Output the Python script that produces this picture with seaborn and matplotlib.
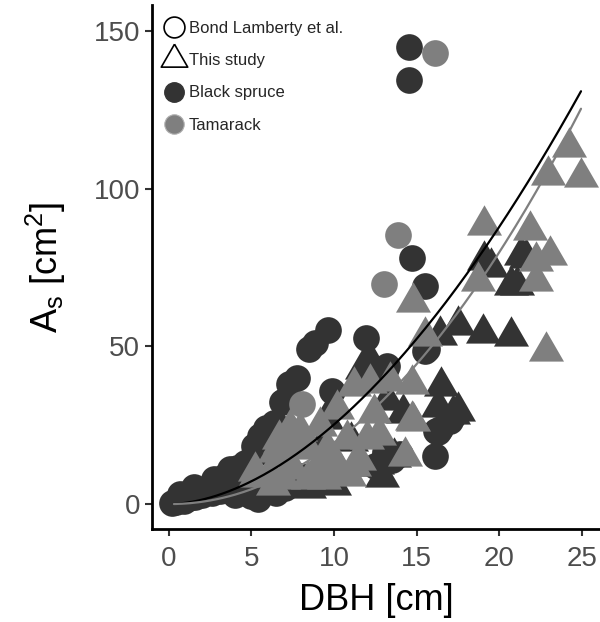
import numpy as np
import pandas as pd
import matplotlib
matplotlib.use("Agg")
import matplotlib.pyplot as plt
from matplotlib.lines import Line2D
from matplotlib.markers import MarkerStyle
import seaborn as sns

# ---- data -------------------------------------------------------------
# Bond Lamberty et al., black spruce
bl_spruce_dbh = [0.2, 0.4, 0.7, 0.9, 1.2, 1.5, 1.6, 2.0, 2.2, 2.6, 2.7, 3.1, 3.4, 3.7,
                 3.6, 4.0, 4.1, 4.4, 4.6, 5.0, 5.14, 5.4, 5.44, 5.54, 5.64, 5.9, 6.34,
                 6.85, 6.95, 7.25, 7.75, 8.46, 8.86, 9.63, 9.87, 11.92, 13.1, 13.2,
                 14.56, 14.56, 14.74, 15.5, 15.5, 15.6, 16.1, 16.2, 16.4, 17.0, 17.2,
                 13.5, 14.0, 13.1, 10.5, 12.5, 7.0, 8.0, 6.5, 5.44, 16.3]
bl_spruce_as = [0.3, 0.8, 3.2, 1.0, 1.8, 5.3, 2.3, 2.8, 4.8, 3.5, 7.9, 4.0, 9.0, 11.1,
                5.0, 3.0, 11.5, 6.0, 13.0, 2.5, 18.5, 1.6, 16.4, 21.6, 20.6, 24.0, 25.8,
                32.2, 32.7, 38.0, 40.1, 49.0, 51.2, 55.2, 35.9, 52.7, 42.2, 43.8,
                145.0, 134.3, 78.1, 69.1, 48.5, 49.0, 15.3, 23.2, 23.7, 26.4, 27.9,
                14.0, 16.0, 16.4, 10.0, 12.0, 5.0, 9.0, 3.5, 3.8, 22.7]

# Bond Lamberty et al., tamarack
bl_tamarack_dbh = [16.13, 13.86, 13.05, 8.06]
bl_tamarack_as = [143.1, 85.4, 69.8, 31.6]

# This study, black spruce
ts_spruce_dbh = [17.5, 19.0, 20.7, 16.4, 19.1, 19.5, 21.6, 20.7, 16.5, 17.5, 16.3,
                 11.7, 12.1, 13.2, 9.2, 11.6, 13.6, 12.6, 8.5, 14.2, 17.2, 21.3,
                 21.1, 7.5, 10.0, 11.0, 12.9, 9.5]
ts_spruce_as = [56.9, 54.2, 53.4, 53.7, 77.4, 75.0, 78.0, 69.6, 37.3, 29.5, 30.7,
                42.7, 46.0, 33.0, 18.4, 12.0, 15.0, 12.7, 5.0, 29.0, 28.5, 79.0,
                69.6, 18.0, 6.0, 20.0, 8.5, 27.0]

# This study, tamarack
ts_tamarack_dbh = [24.2, 22.96, 24.97, 19.1, 21.85, 23.06, 22.2, 22.2, 22.86, 18.7,
                   14.8, 15.5, 14.7, 14.3, 14.7, 5.24, 6.75, 7.35, 9.17, 11.2, 12.2,
                   13.4, 14.8, 10.2, 12.4, 12.0, 12.7, 10.8, 9.6, 8.4, 6.95, 6.14,
                   6.9, 8.4, 9.4, 10.4, 11.2, 11.5, 10.9, 6.3, 7.95, 6.65, 7.5, 9.0,
                   10.0, 8.0, 6.45, 5.24]
ts_tamarack_as = [113.3, 104.3, 103.8, 88.5, 86.9, 79.0, 76.9, 70.6, 48.4, 70.6,
                  64.2, 53.2, 26.8, 15.2, 38.0, 10.4, 19.4, 24.0, 24.7, 37.3, 38.4,
                  39.0, 26.3, 30.0, 29.0, 20.6, 22.0, 20.6, 17.4, 17.4, 15.2, 10.0,
                  8.0, 7.9, 8.0, 10.0, 12.0, 14.0, 9.0, 6.0, 23.2, 20.6, 11.0, 12.0,
                  14.0, 20.0, 16.5, 8.5]

# Power-law fits A = a * DBH^b
fit_spruce = (0.40, 1.80)
fit_tamarack = (0.177, 2.04)
fit_range = (0.3, 24.95)

# ---- styling ----------------------------------------------------------
SPRUCE = "#333333"
TAMARACK = "#7f7f7f"

sns.set_theme(style="ticks")
plt.rcParams["font.family"] = ["Liberation Sans", "DejaVu Sans"]
plt.rcParams["mathtext.fontset"] = "custom"
plt.rcParams["mathtext.rm"] = "Liberation Sans"
plt.rcParams["mathtext.it"] = "Liberation Sans"

# equilateral triangle centred on its centroid
tri = MarkerStyle(np.array([[0, 1], [-0.866, -0.5], [0.866, -0.5], [0, 1]]))

fig = plt.figure(figsize=(6, 6.22), dpi=100)
ax = fig.add_axes([0.254, 0.1495, 0.746, 0.8425])

groups = [
    (bl_spruce_dbh, bl_spruce_as, "o", 369, SPRUCE),
    (bl_tamarack_dbh, bl_tamarack_as, "o", 369, TAMARACK),
    (ts_spruce_dbh, ts_spruce_as, tri, 847, SPRUCE),
    (ts_tamarack_dbh, ts_tamarack_as, tri, 847, TAMARACK),
]
for dbh, area, mk, s, col in groups:
    df = pd.DataFrame({"DBH": dbh, "As": area})
    sns.scatterplot(data=df, x="DBH", y="As", marker=mk, s=s, color=col,
                    linewidth=0, ax=ax, legend=False, zorder=2)

xs = np.linspace(fit_range[0], fit_range[1], 200)
for (a, b), col in [(fit_spruce, "black"), (fit_tamarack, TAMARACK)]:
    sns.lineplot(x=xs, y=a * xs ** b, color=col, linewidth=1.6, ax=ax, zorder=3)

ax.set_xlim(-1.0, 26.1)
ax.set_ylim(-7.9, 158.2)
ax.set_xticks([0, 5, 10, 15, 20, 25])
ax.set_yticks([0, 50, 100, 150])
ax.set_xlabel("DBH [cm]", fontsize=26, color="black", labelpad=8)
ax.set_ylabel(r"A$_{\mathregular{s}}$ [cm$^{\mathregular{2}}$]", fontsize=26,
              color="black", labelpad=18)
ax.tick_params(axis="both", labelsize=20, labelcolor="#4d4d4d", color="#333333",
               length=5, width=1.5, direction="out")
ax.tick_params(axis="x", pad=7.5)
ax.tick_params(axis="y", pad=4)
sns.despine(ax=ax)
for side in ("left", "bottom"):
    ax.spines[side].set_linewidth(2.0)
    ax.spines[side].set_color("black")

handles = [
    Line2D([], [], marker="o", markersize=15, markerfacecolor="white",
           markeredgecolor="black", markeredgewidth=1.2, linestyle="None"),
    Line2D([], [], marker=tri, markersize=22, markerfacecolor="none",
           markeredgecolor="black", markeredgewidth=1.2, linestyle="None"),
    Line2D([], [], marker="o", markersize=14, markerfacecolor=SPRUCE,
           markeredgecolor=SPRUCE, linestyle="None"),
    Line2D([], [], marker="o", markersize=14, markerfacecolor=TAMARACK,
           markeredgecolor="#b0b0b0", markeredgewidth=0.8, linestyle="None"),
]
labels = ["Bond Lamberty et al.", "This study", "Black spruce", "Tamarack"]
ax.legend(handles, labels, loc="upper left", bbox_to_anchor=(0.026, 0.970),
          frameon=False, fontsize=12, borderpad=0, borderaxespad=0,
          handlelength=1.2, handletextpad=0.3, labelspacing=1.04)

fig.savefig("out.png", dpi=100)
